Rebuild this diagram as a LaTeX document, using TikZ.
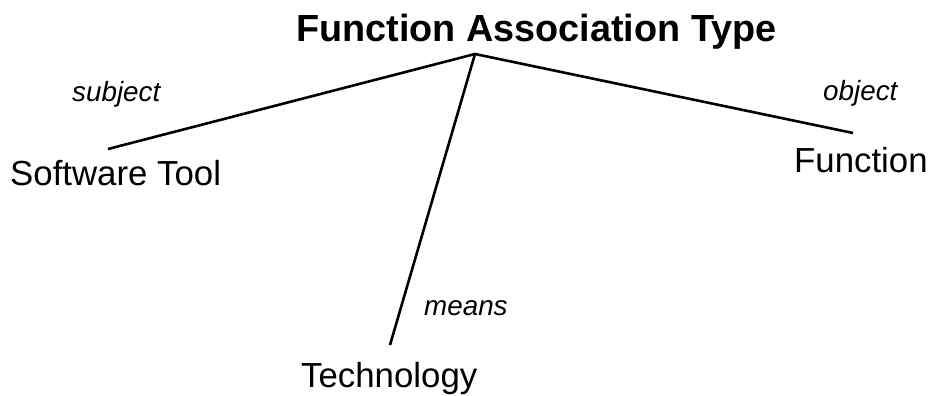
\documentclass[tikz,border=0pt]{standalone}
\usepackage{fontspec}
\setmainfont{Liberation Sans}
\begin{document}
\begin{tikzpicture}[x=1pt,y=-1pt,
  title/.style={inner sep=0pt,anchor=base,font=\fontsize{37.8}{40}\selectfont\bfseries},
  term/.style={inner sep=0pt,anchor=base west,font=\fontsize{34.8}{38}\selectfont},
  role/.style={inner sep=0pt,anchor=base west,font=\fontsize{27.8}{30}\selectfont\itshape},
  link/.style={line width=2.6pt}]
\useasboundingbox (0,0) rectangle (932,396);
\node[title] (fat) at (536.5,42) {Function Association Type};
\node[term] (sw) at (10,185.5) {Software Tool};
\node[term] (fn) at (794,172.5) {Function};
\node[term] (tech) at (301,387) {Technology};
\node[role] (subj) at (72,102) {subject};
\node[role] (obj) at (823,100) {object};
\node[role] (means) at (424,315) {means};
\coordinate (apex) at (475,54);
\coordinate (swend) at (108,149);
\coordinate (fnend) at (853,133);
\coordinate (techend) at (390,345);
\draw[link] (swend) -- (apex) -- (fnend);
\draw[link] (apex) -- (techend);
\end{tikzpicture}
\end{document}
